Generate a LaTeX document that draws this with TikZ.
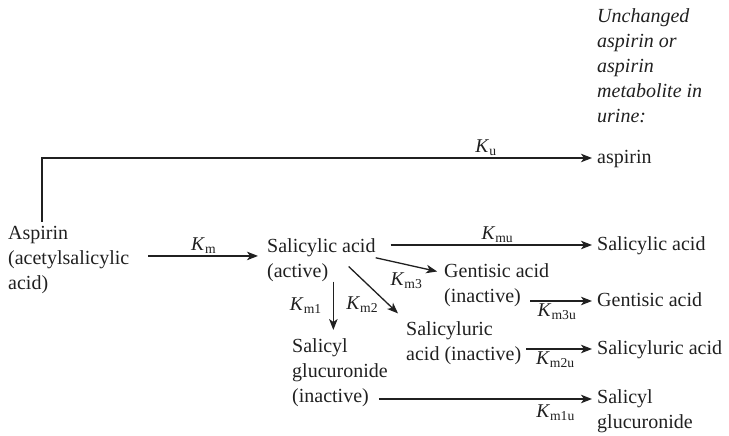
\documentclass[tikz,border=0pt]{standalone}
\usepackage{fontspec}
\setmainfont{Liberation Serif}
\usetikzlibrary{positioning,arrows.meta}
\definecolor{inkgray}{RGB}{32,32,32}
\newcommand{\Krate}[1]{\textit{K}\textsubscript{#1}}
\tikzset{
  chem/.style={text=inkgray,inner sep=0pt,align=left,font=\fontsize{20}{25}\selectfont},
  headnote/.style={chem,font=\fontsize{20}{25}\selectfont\itshape},
  flow/.style={draw=inkgray,line width=1.3pt,shorten >=5pt,
    -{Stealth[length=11pt,width=8.5pt,inset=3pt]}},
  rate/.style={text=inkgray,inner sep=2pt,font=\fontsize{19.5}{22}\selectfont},
}

\begin{document}
\begin{tikzpicture}[x=1pt,y=-1pt]
  \useasboundingbox (0,0) rectangle (729,436);

  % body side
  \node[chem,anchor=north west] (asp) at (8,226) {Aspirin\\(acetylsalicylic\\acid)};
  \node[chem,anchor=north west] (sal) at (267,238) {Salicylic acid\\(active)};
  \node[chem,anchor=north west] (gen) at (444,263) {Gentisic acid\\(inactive)};
  \node[chem,anchor=north west] (slu) at (406,321) {Salicyluric\\acid (inactive)};
  \node[chem,anchor=north west] (glu) at (292,338) {Salicyl\\glucuronide\\(inactive)};

  % urine side
  \node[headnote,anchor=north west] (head) at (597,8)
    {Unchanged\\aspirin or\\aspirin\\metabolite in\\urine:};
  \node[chem,anchor=base west] (ua) at (597,163) {aspirin};
  \node[chem,anchor=base west] (usal) at (597,250) {Salicylic acid};
  \node[chem,anchor=base west] (ugen) at (597,306) {Gentisic acid};
  \node[chem,anchor=base west] (uslu) at (597,354) {Salicyluric acid};
  \node[chem,anchor=base west] (uglu) at (597,428) {Salicyl\\glucuronide};

  % metabolism
  \draw[flow] ([xshift=34pt,yshift=4pt]asp.north west) |- node[rate,above,pos=0.9] {\Krate{u}} ([yshift=5pt]ua.base west);
  \draw[flow,shorten <=19pt,shorten >=9pt] ([yshift=4pt]asp.east) -- node[rate,above,pos=0.54] {\Krate{m}} ([yshift=4pt]asp.east -| sal.west);
  \draw[flow,shorten <=15pt] ([yshift=5pt]sal.east |- usal.base west) -- node[rate,above,pos=0.55] {\Krate{mu}} ([yshift=5pt]usal.base west);
  \draw[flow,shorten >=7pt] ([yshift=2pt]sal.east) -- node[rate,below=5pt,pos=0.45] {\Krate{m3}} ([yshift=-10pt]gen.north west);
  \draw[flow,shorten >=11pt] ([xshift=-27pt,yshift=15pt]sal.south east) -- node[rate,left=8pt,pos=0.7] {\Krate{m2}} (slu.north west);
  \draw[flow,shorten >=8pt] ([xshift=12pt]sal.south) -- node[rate,left=9pt,pos=0.42] {\Krate{m1}} ([xshift=12pt]sal.south |- glu.north);

  % excretion
  \draw[flow] ([xshift=-19pt,yshift=5pt]gen.east |- ugen.base west) -- node[rate,below,pos=0.4] {\Krate{m3u}} ([yshift=5pt]ugen.base west);
  \draw[flow,shorten <=5pt] ([yshift=5pt]slu.east |- uslu.base west) -- node[rate,below,pos=0.45] {\Krate{m2u}} ([yshift=5pt]uslu.base west);
  \draw[flow] ([xshift=-9pt,yshift=29pt]glu.east |- uglu.base west) -- node[rate,below=3pt,pos=0.81] {\Krate{m1u}} ([yshift=29pt]uglu.base west);
\end{tikzpicture}
\end{document}
